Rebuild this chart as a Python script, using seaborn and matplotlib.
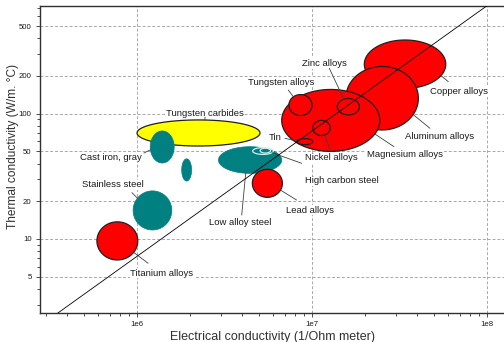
import numpy as np
import matplotlib
matplotlib.use("Agg")
import matplotlib.pyplot as plt
from matplotlib.ticker import FixedLocator, LogLocator, NullFormatter
import seaborn as sns

# ---- material property ranges (electrical conductivity in 1/(Ohm m), thermal conductivity in W/m.C)
materials = [
    "Tungsten carbides", "Cast iron, gray", "", "Stainless steel",
    "Low alloy steel", "High carbon steel", "",
    "Copper alloys", "Aluminum alloys", "Magnesium alloys",
    "Tungsten alloys", "Zinc alloys", "Nickel alloys", "Tin",
    "Lead alloys", "Titanium alloys",
]
sigma_lo = [1.00e6, 1.19e6, 1.80e6, 9.5e5, 2.92e6, 4.58e6, 5.05e6,
            1.99e7, 1.56e7, 6.71e6, 7.38e6, 1.395e7, 1.01e7, 8.2e6,
            4.56e6, 5.9e5]
sigma_hi = [5.04e6, 1.63e6, 2.05e6, 1.58e6, 6.71e6, 6.01e6, 5.79e6,
            5.81e7, 4.05e7, 2.44e7, 1.00e7, 1.865e7, 1.27e7, 1.01e7,
            6.77e6, 1.01e6]
k_lo = [55.2, 40.4, 29.0, 11.8, 33.4, 47.3, 48.5,
        159, 74.1, 50.0, 96.6, 97.7, 67.0, 56.6,
        21.5, 6.8]
k_hi = [89.1, 72.8, 43.6, 24.2, 54.5, 53.6, 53.0,
        387, 238, 156, 142, 132, 88.3, 63.2,
        36.0, 13.7]

# Wiedemann-Franz reference line: k = L * T * sigma
lorenz = 2.44e-8
temperature = 298.0

# ---- styles
RED, TEAL, YELLOW = "#ff0000", "#008080", "#ffff00"
face = [YELLOW, TEAL, TEAL, TEAL, TEAL, "none", "none",
        RED, RED, RED, RED, RED, RED, RED, RED, RED]
edge = ["#202020", TEAL, TEAL, TEAL, TEAL, "#d6eded", "#d6eded",
        "#202020", "#202020", "#202020", "#202020", "#202020", "#202020", "#202020",
        "#202020", "#202020"]

# label placement: text centre, leader start (axes fraction), leader end angle on the bubble (deg)
label_layout = {
    "Titanium alloys":   ((0.263, 0.130), (0.233, 0.162), -37, 15),
    "Stainless steel":   ((0.156, 0.417), (0.198, 0.392), 141, 3),
    "Cast iron, gray":   ((0.153, 0.508), (0.224, 0.521), 190, 1),
    "Tungsten carbides": ((0.3545, 0.651), (0.3556, 0.638), 84, 0),
    "Low alloy steel":   ((0.432, 0.295), (0.4347, 0.319), -98, 4),
    "High carbon steel": ((0.651, 0.430), (0.564, 0.4876), -30, 5),
    "Lead alloys":       ((0.581, 0.3355), (0.553, 0.368), -29, 14),
    "Tin":               ((0.5065, 0.573), (0.528, 0.569), 170, 13),
    "Nickel alloys":     ((0.629, 0.505), (0.627, 0.5254), -69, 12),
    "Zinc alloys":       ((0.612, 0.8127), (0.6235, 0.797), 114, 11),
    "Tungsten alloys":   ((0.519, 0.752), (0.535, 0.7264), 128, 10),
    "Magnesium alloys":  ((0.787, 0.515), (0.763, 0.5417), -26, 9),
    "Aluminum alloys":   ((0.862, 0.5765), (0.8405, 0.6016), -31, 8),
    "Copper alloys":     ((0.903, 0.7215), (0.880, 0.7534), -28, 7),
}

sns.set_theme(style="white")
plt.rcParams["font.family"] = ["Liberation Sans", "DejaVu Sans"]

fig = plt.figure(figsize=(5.04, 3.42), dpi=100)
ax = fig.add_axes([40 / 504, 29 / 342, 464 / 504, 307 / 342])
ax.set_xscale("log")
ax.set_yscale("log")
xlim = (2.79e5, 1.25e8)
ylim = (2.567, 723.0)
ax.set_xlim(*xlim)
ax.set_ylim(*ylim)


def bubble(i, t):
    cx = (np.log10(sigma_lo[i]) + np.log10(sigma_hi[i])) / 2
    rx = (np.log10(sigma_hi[i]) - np.log10(sigma_lo[i])) / 2
    cy = (np.log10(k_lo[i]) + np.log10(k_hi[i])) / 2
    ry = (np.log10(k_hi[i]) - np.log10(k_lo[i])) / 2
    return 10 ** (cx + rx * np.cos(t)), 10 ** (cy + ry * np.sin(t))


theta = np.linspace(0, 2 * np.pi, 240)
for i in range(len(materials)):
    xs, ys = bubble(i, theta)
    lw = 0.9 if edge[i] != face[i] else 0.5
    ax.fill(xs, ys, facecolor=face[i], edgecolor=edge[i], linewidth=lw,
            zorder=2 + i * 0.01)

# reference line across the whole axis range
sig_line = np.array(xlim)
sns.lineplot(x=sig_line, y=lorenz * temperature * sig_line, color="black",
             linewidth=0.6, ax=ax, zorder=4)

# labels with leader lines
for name, (txt, lead, ang, idx) in label_layout.items():
    ex, ey = bubble(idx, np.deg2rad(np.array([ang])))
    ax.annotate("", xy=(ex[0], ey[0]), xycoords="data",
                xytext=lead, textcoords="axes fraction",
                arrowprops=dict(arrowstyle="-", color="#404040", lw=0.6,
                                shrinkA=0, shrinkB=0),
                zorder=3)
    ax.text(txt[0], txt[1], name, transform=ax.transAxes, ha="center",
            va="center", fontsize=6.8, color="#1a1a1a", zorder=1.5,
            bbox=dict(facecolor="white", edgecolor="none", pad=0.6))

# axes, ticks and grid
ax.xaxis.set_major_locator(FixedLocator([1e6, 1e7, 1e8]))
ax.set_xticklabels(["1e6", "1e7", "1e8"])
ax.xaxis.set_minor_locator(LogLocator(base=10, subs=np.arange(2, 10)))
ax.xaxis.set_minor_formatter(NullFormatter())
yt = [5, 10, 20, 50, 100, 200, 500]
ax.yaxis.set_major_locator(FixedLocator(yt))
ax.set_yticklabels([str(v) for v in yt])
ax.yaxis.set_minor_locator(LogLocator(base=10, subs=np.arange(2, 10)))
ax.yaxis.set_minor_formatter(NullFormatter())

ax.tick_params(which="both", direction="out", color="#303030", width=0.6,
               labelsize=5.6, labelcolor="#1a1a1a", left=True, bottom=True)
ax.tick_params(which="major", length=3, pad=3)
ax.tick_params(which="minor", length=2)

ax.grid(True, which="major", linestyle=(0, (3, 2)), color="#a8a8a8",
        linewidth=0.7)
ax.set_axisbelow(True)
for s in ("left", "bottom", "top"):
    ax.spines[s].set_color("#303030")
    ax.spines[s].set_linewidth(1.0)
ax.spines["right"].set_visible(False)

ax.set_xlabel("Electrical conductivity (1/Ohm meter)", fontsize=9.0,
              color="#303030")
ax.xaxis.set_label_coords(0.502, -0.0575)
ax.set_ylabel("Thermal conductivity (W/m. \u00b0C)", fontsize=8.6,
              color="#303030")
ax.yaxis.set_label_coords(-0.0575, 0.542)
ax.yaxis.label.set_va("center")

fig.savefig("out.png", dpi=100)
